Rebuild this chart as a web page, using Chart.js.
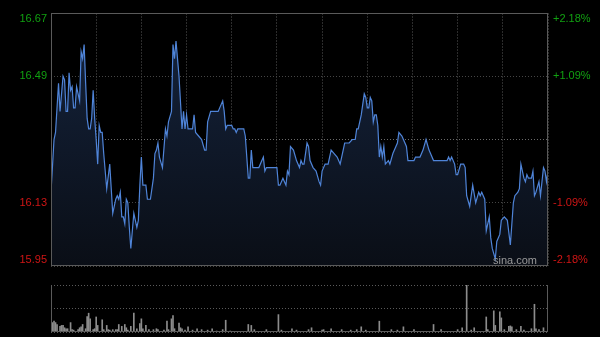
<!DOCTYPE html>
<html>
<head>
<meta charset="utf-8">
<script src="https://cdn.jsdelivr.net/npm/chart.js@4/dist/chart.umd.min.js"></script>
<style>
  html, body { margin: 0; padding: 0; background: #000; }
  .panel { position: absolute; left: 0; top: 0; width: 600px; height: 337px; }
</style>
</head>
<body>
<div class="panel"><canvas id="priceChart"></canvas></div>
<div class="panel"><canvas id="volumeChart"></canvas></div>
<script>
// intraday, minutes since the open (330 trading minutes)
const priceTimes = [
  0, 2, 3, 5, 6, 8, 9, 10, 11, 12, 13, 14, 15, 16, 17, 19, 20, 21, 22, 23,
  24, 25, 26, 27, 28, 29, 30, 31, 32, 33, 34, 35, 37, 39, 41, 43, 44, 45, 46, 47,
  48, 49, 50, 51, 52, 53, 55, 57, 58, 59, 60, 61, 63, 64, 66, 68, 69, 70, 71, 72,
  74, 76, 77, 78, 80, 81, 82, 83, 85, 87, 88, 89, 90, 91, 94, 95, 96, 98, 100, 102,
  103, 104, 106, 111, 114, 115, 116, 117, 120, 121, 122, 123, 124, 128, 129, 131, 132, 133, 134, 138,
  141, 142, 143, 150, 151, 152, 154, 156, 157, 158, 159, 161, 163, 165, 166, 167, 168, 170, 171, 172,
  174, 176, 178, 179, 180, 182, 184, 186, 188, 190, 192, 193, 195, 198, 200, 202, 203, 204, 206, 208,
  209, 210, 211, 212, 213, 214, 215, 216, 217, 218, 219, 220, 221, 222, 224, 225, 227, 228, 230, 231,
  233, 234, 236, 237, 241, 242, 245, 247, 249, 251, 252, 254, 263, 264, 265, 266, 268, 269, 270, 272,
  274, 275, 276, 278, 280, 282, 284, 285, 286, 288, 289, 291, 292, 293, 295, 296, 298, 299, 301, 303,
  305, 307, 308, 310, 311, 312, 314, 315, 316, 317, 319, 320, 321, 322, 324, 325, 326, 327, 328, 329,
  330
];
const prices = [
  16.16, 16.31, 16.33, 16.47, 16.39, 16.49, 16.48, 16.39, 16.39, 16.50, 16.45, 16.46, 16.40, 16.40, 16.46, 16.42, 16.56, 16.54, 16.58, 16.47,
  16.37, 16.34, 16.34, 16.37, 16.45, 16.37, 16.31, 16.24, 16.35, 16.33, 16.33, 16.27, 16.17, 16.24, 16.10, 16.14, 16.15, 16.14, 16.16, 16.09,
  16.09, 16.07, 16.14, 16.13, 16.06, 16.00, 16.10, 16.06, 16.08, 16.18, 16.26, 16.18, 16.18, 16.14, 16.14, 16.20, 16.27, 16.28, 16.30, 16.26,
  16.23, 16.34, 16.32, 16.36, 16.39, 16.58, 16.54, 16.59, 16.49, 16.34, 16.39, 16.34, 16.38, 16.34, 16.34, 16.38, 16.33, 16.32, 16.31, 16.28,
  16.28, 16.36, 16.39, 16.39, 16.42, 16.39, 16.34, 16.35, 16.35, 16.34, 16.34, 16.33, 16.34, 16.34, 16.32, 16.20, 16.20, 16.28, 16.23, 16.23,
  16.26, 16.22, 16.23, 16.23, 16.18, 16.18, 16.20, 16.18, 16.22, 16.21, 16.29, 16.28, 16.25, 16.23, 16.25, 16.24, 16.24, 16.30, 16.29, 16.25,
  16.23, 16.22, 16.19, 16.18, 16.22, 16.24, 16.24, 16.28, 16.27, 16.26, 16.24, 16.26, 16.30, 16.30, 16.31, 16.31, 16.34, 16.34, 16.38, 16.44,
  16.43, 16.40, 16.40, 16.43, 16.42, 16.36, 16.38, 16.38, 16.35, 16.26, 16.29, 16.26, 16.29, 16.24, 16.25, 16.24, 16.27, 16.28, 16.30, 16.33,
  16.32, 16.31, 16.29, 16.25, 16.25, 16.26, 16.26, 16.28, 16.31, 16.28, 16.27, 16.25, 16.25, 16.26, 16.25, 16.26, 16.24, 16.21, 16.21, 16.24,
  16.24, 16.23, 16.15, 16.12, 16.18, 16.13, 16.16, 16.15, 16.16, 16.14, 16.05, 16.09, 16.03, 16.00, 15.97, 16.02, 16.04, 16.08, 16.09, 16.08,
  16.01, 16.13, 16.15, 16.16, 16.17, 16.24, 16.20, 16.19, 16.21, 16.20, 16.20, 16.22, 16.15, 16.16, 16.19, 16.15, 16.19, 16.23, 16.22, 16.19,
  16.22
];
const prevClose = 16.31;
const priceTicks = [15.95, 16.13, 16.31, 16.49, 16.67];
const priceTickLabels = ['15.95', '16.13', '', '16.49', '16.67'];
const pctTickLabels = ['-2.18%', '-1.09%', '', '+1.09%', '+2.18%'];
const timeTicks = [0, 30, 60, 90, 120, 150, 180, 210, 240, 270, 300, 330];

// volume, relative units (100 = top of the panel)
const volumeTimes = [
  1, 2, 3, 4, 6, 7, 8, 9, 10, 11, 13, 14, 15, 18, 19, 20, 21, 23, 24, 25,
  26, 28, 29, 30, 31, 34, 35, 37, 38, 39, 41, 43, 44, 45, 47, 49, 50, 51, 53, 55,
  57, 59, 60, 61, 63, 65, 68, 70, 71, 75, 77, 78, 80, 81, 82, 85, 86, 87, 89, 91,
  94, 97, 100, 104, 107, 110, 114, 116, 119, 131, 133, 135, 143, 151, 153, 160, 163, 171, 173, 180,
  181, 186, 193, 199, 203, 206, 209, 218, 226, 230, 234, 241, 254, 259, 270, 273, 276, 279, 281, 289,
  290, 294, 295, 298, 299, 301, 304, 305, 306, 309, 312, 314, 319, 321, 322, 324, 327, 330
];
const volumes = [
  20, 23, 20, 16, 12, 14, 14, 9, 7, 7, 20, 5, 4, 5, 9, 11, 16, 7, 33, 40,
  28, 5, 7, 32, 14, 26, 5, 14, 5, 4, 5, 5, 5, 16, 12, 16, 9, 4, 12, 40,
  7, 18, 28, 7, 14, 5, 5, 7, 5, 4, 23, 5, 28, 35, 7, 19, 9, 7, 4, 11,
  4, 7, 5, 4, 7, 2, 5, 25, 2, 16, 14, 5, 5, 37, 4, 7, 4, 5, 9, 4,
  5, 7, 5, 4, 5, 11, 4, 23, 5, 4, 11, 5, 16, 5, 5, 9, 100, 4, 9, 32,
  5, 45, 14, 43, 30, 5, 12, 13, 11, 5, 12, 4, 7, 59, 7, 5, 9, 4
];
const volumeTicks = [0, 50, 100];

const labelFont = '11px "Liberation Sans", Arial, sans-serif';
const upColor = '#11a011';
const downColor = '#d01515';

const frame = {
  id: 'frame',
  afterDatasetsDraw(chart, args, opts) {
    const { ctx, chartArea: a } = chart;
    ctx.save();
    ctx.strokeStyle = opts.color;
    ctx.lineWidth = 1;
    ctx.beginPath();
    if (opts.top) { ctx.moveTo(a.left, a.top + 0.5); ctx.lineTo(a.right, a.top + 0.5); }
    ctx.moveTo(a.left + 0.5, a.top);
    ctx.lineTo(a.left + 0.5, a.bottom);
    ctx.moveTo(a.right - 0.5, a.top);
    ctx.lineTo(a.right - 0.5, a.bottom);
    ctx.moveTo(a.left, a.bottom - 0.5);
    ctx.lineTo(a.right, a.bottom - 0.5);
    ctx.stroke();
    ctx.restore();
  }
};

const priceLabels = {
  id: 'priceLabels',
  afterDraw(chart) {
    const { ctx, chartArea: a } = chart;
    const y = chart.scales.y;
    ctx.save();
    ctx.font = labelFont;
    ctx.textBaseline = 'middle';
    priceTicks.forEach((v, i) => {
      let py = y.getPixelForValue(v);
      py = Math.min(Math.max(py, a.top + 6), a.bottom - 6);
      ctx.fillStyle = v > prevClose ? upColor : downColor;
      ctx.textAlign = 'right';
      ctx.fillText(priceTickLabels[i], a.left - 4, py);
      ctx.textAlign = 'left';
      ctx.fillText(pctTickLabels[i], a.right + 5, py);
    });
    ctx.fillStyle = '#9a9a9a';
    ctx.textAlign = 'right';
    ctx.textBaseline = 'alphabetic';
    ctx.fillText('sina.com', a.right - 11, a.bottom - 2);
    ctx.restore();
  }
};

new Chart(document.getElementById('priceChart'), {
  type: 'line',
  data: {
    datasets: [{
      data: priceTimes.map((t, i) => ({ x: t, y: prices[i] })),
      borderColor: '#4f84d8',
      borderWidth: 1.2,
      pointRadius: 0,
      tension: 0,
      fill: 'start',
      backgroundColor: (c) => {
        const a = c.chart.chartArea;
        if (!a) return 'transparent';
        const g = c.chart.ctx.createLinearGradient(0, a.top, 0, a.bottom);
        g.addColorStop(0, '#15243e');
        g.addColorStop(1, '#0a0e16');
        return g;
      }
    }]
  },
  options: {
    responsive: true,
    maintainAspectRatio: false,
    animation: false,
    layout: { padding: { left: 51, right: 52, top: 13, bottom: 71 } },
    plugins: { legend: { display: false }, tooltip: { enabled: false }, frame: { color: '#5a5a5a', top: true } },
    scales: {
      x: {
        type: 'linear', min: 0, max: 330,
        afterBuildTicks: (s) => { s.ticks = timeTicks.map(v => ({ value: v })); },
        ticks: { display: false },
        grid: { color: '#2c2c2c', drawTicks: false },
        border: { display: false, dash: [2, 1] }
      },
      y: {
        min: 15.95, max: 16.67,
        afterBuildTicks: (s) => { s.ticks = priceTicks.map(v => ({ value: v })); },
        ticks: { display: false },
        grid: { color: (c) => (c.tick && c.tick.value === prevClose ? '#6a6a6a' : '#454545'), drawTicks: false },
        border: { display: false, dash: [1, 2] }
      }
    }
  },
  plugins: [frame, priceLabels]
});

new Chart(document.getElementById('volumeChart'), {
  type: 'bar',
  data: {
    datasets: [{
      data: volumeTimes.map((t, i) => ({ x: t, y: volumes[i] })),
      backgroundColor: '#8c8c8c',
      barThickness: 1
    }]
  },
  options: {
    responsive: true,
    maintainAspectRatio: false,
    animation: false,
    layout: { padding: { left: 51, right: 52, top: 285, bottom: 5 } },
    plugins: { legend: { display: false }, tooltip: { enabled: false }, frame: { color: '#5a5a5a', top: false } },
    scales: {
      x: {
        type: 'linear', min: 0, max: 330, offset: false,
        ticks: { display: false },
        grid: { display: false, drawTicks: false },
        border: { display: false }
      },
      y: {
        min: 0, max: 100,
        afterBuildTicks: (s) => { s.ticks = volumeTicks.map(v => ({ value: v })); },
        ticks: { display: false },
        grid: { color: '#5a5a5a', drawTicks: false },
        border: { display: false, dash: [1, 2] }
      }
    }
  },
  plugins: [frame]
});
</script>
</body>
</html>
